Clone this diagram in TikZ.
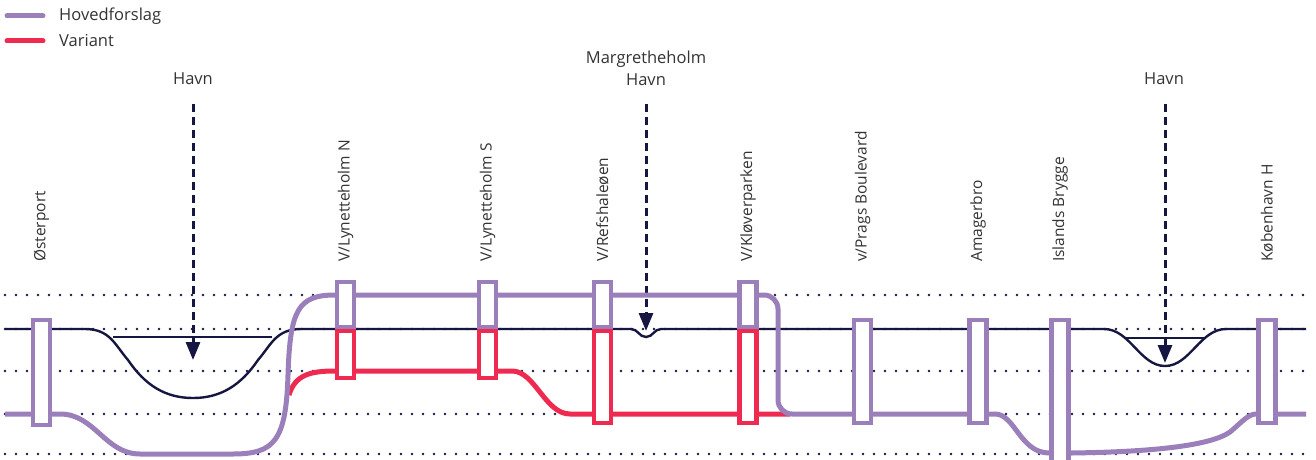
\documentclass[tikz,border=0pt]{standalone}
\usepackage{fontspec}
\setmainfont{Open Sans}
\usetikzlibrary{arrows.meta,backgrounds,calc}

\definecolor{mlpurple}{RGB}{154,127,187}
\definecolor{mlred}{RGB}{238,42,80}
\definecolor{mlnavy}{RGB}{22,22,66}
\definecolor{mltext}{RGB}{51,51,51}

\newcommand{\MLBox}[5]{
  \node[stationbox, draw=#5, minimum height={#4-#3-4}] (#1) at (#2,{(#3+#4)/2}) {};
}
\newcommand{\MLLabel}[3]{
  \node[stationlabel] (#1) at (#2,262) {#3};
}
\newcommand{\MLHarbour}[3]{
  \coordinate (#1top) at (#2,104);
  \coordinate (#1tip) at (#2,#3);
  \draw[harbourarrow] (#1top) -- (#1tip);
}
\newcommand{\MLDots}[2]{
  \coordinate (#1w) at (5,#2);
  \coordinate (#1e) at (1306,#2);
  \draw[dotline] (#1w) -- (#1e);
}

\begin{document}
\begin{tikzpicture}[x=1pt,y=-1pt,
  stationbox/.style={rectangle, line width=4.4pt, fill=white, minimum width=17pt, inner sep=0pt},
  stationlabel/.style={rotate=90, anchor=west, text=mltext, inner sep=0pt, font=\fontsize{15.5}{18}\selectfont},
  textlabel/.style={text=mltext, inner sep=0pt, align=center, font=\fontsize{16.5}{22}\selectfont},
  dotline/.style={mlnavy, line width=2.8pt, line cap=round, dash pattern=on 0pt off 11pt},
  navyline/.style={mlnavy, line width=2.4pt},
  harbourarrow/.style={mlnavy, line width=3pt, dash pattern=on 8pt off 5pt, -{Triangle[width=14pt,length=18pt]}},
  hovedline/.style={mlpurple, line width=5pt},
  varline/.style={mlred, line width=5pt}]
\useasboundingbox (0,0) rectangle (1316,460);

% legend
\coordinate (lega) at (7,16);
\coordinate (legb) at (43,16);
\coordinate (legc) at (7,41);
\coordinate (legd) at (43,41);
\draw[hovedline, line cap=round] (lega) -- (legb);
\draw[varline, line cap=round] (legc) -- (legd);
\node[textlabel, anchor=west] (hovedtext) at (59,16) {Hovedforslag};
\node[textlabel, anchor=west] (varianttext) at (59,41) {Variant};

% stations
\MLBox{osterport}{41.5}{318}{427}{mlpurple}
\MLBox{lynNa}{345.5}{280}{329}{mlpurple}
\MLBox{lynNb}{345.5}{329}{380}{mlred}
\MLBox{lynSa}{487.5}{280}{329}{mlpurple}
\MLBox{lynSb}{487.5}{329}{380}{mlred}
\MLBox{refsa}{602.5}{280}{329}{mlpurple}
\MLBox{refsb}{602.5}{329}{425}{mlred}
\MLBox{kloa}{748}{280}{329}{mlpurple}
\MLBox{klob}{748}{329}{425}{mlred}
\MLBox{prags}{862.5}{318}{425}{mlpurple}
\MLBox{amager}{978}{318}{425}{mlpurple}
\MLBox{islands}{1060}{318}{475}{mlpurple}
\MLBox{kbh}{1267}{318}{425}{mlpurple}

\MLLabel{osterportlabel}{41.5}{Østerport}
\MLLabel{lynNlabel}{345.5}{V/Lynetteholm N}
\MLLabel{lynSlabel}{487.5}{V/Lynetteholm S}
\MLLabel{refslabel}{602.5}{V/Refshaleøen}
\MLLabel{klolabel}{748}{V/Kløverparken}
\MLLabel{pragslabel}{862.5}{v/Prags Boulevard}
\MLLabel{amagerlabel}{978}{Amagerbro}
\MLLabel{islandslabel}{1060}{Islands Brygge}
\MLLabel{kbhlabel}{1267}{København H}

% harbours
\node[textlabel] (havnA) at (193,79) {Havn};
\node[textlabel] (havnB) at (646,68) {Margretheholm\\Havn};
\node[textlabel] (havnC) at (1164,79) {Havn};

\begin{scope}[on background layer]
\MLDots{la}{295}
\MLDots{lb}{329}
\MLDots{lc}{371}
\MLDots{ld}{414}
\MLDots{le}{454}

% tunnel
\coordinate (navyw) at (5,329);
\coordinate (navye) at (1306,329);
\draw[navyline] (navyw) -- (85,329) .. controls (110,329) and (115,345) .. (128,360)
  .. controls (145,385) and (165,398) .. (193,398)
  .. controls (221,398) and (241,385) .. (258,360)
  .. controls (271,345) and (276,329) .. (301,329)
  -- (631,329) .. controls (638,329) and (639,337) .. (646,337)
  .. controls (653,337) and (654,329) .. (661,329)
  -- (1104,329) .. controls (1130,329) and (1140,366) .. (1165,366)
  .. controls (1190,366) and (1200,329) .. (1226,329) -- (navye);
\draw[navyline] (113,337) -- (272,337);
\draw[navyline] (1125,338) -- (1204,338);

\MLHarbour{arrA}{193}{360}
\MLHarbour{arrB}{646}{331}
\MLHarbour{arrC}{1165}{363}

% variant
\coordinate (varw) at (289,395);
\coordinate (vare) at (790,414);
\draw[varline] (varw) .. controls (295,375) and (310,371) .. (lynNb.west |- 0,371)
  -- (512,371) .. controls (535,371) and (545,414) .. (570,414) -- (vare);

% hovedforslag
\coordinate (hovw) at (5,414);
\coordinate (hove) at (1306,414);
\draw[hovedline] (hovw) -- (60,414) .. controls (95,414) and (105,454) .. (140,454)
  -- (233,454) .. controls (275,454) and (286,440) .. (288,375)
  .. controls (290,310) and (298,295) .. (lynNa.west |- 0,295)
  -- (kloa.east |- 0,295) [rounded corners=14pt] -- (778,295) -- (778,414)
  [sharp corners] -- (995,414) .. controls (1015,414) and (1020,453) .. (islands.west |- 0,453)
  -- (1071,453) .. controls (1150,452) and (1210,446) .. (1230,432)
  .. controls (1242,422) and (1248,414) .. (kbh.west |- 0,414) -- (hove);
\end{scope}
\end{tikzpicture}
\end{document}
